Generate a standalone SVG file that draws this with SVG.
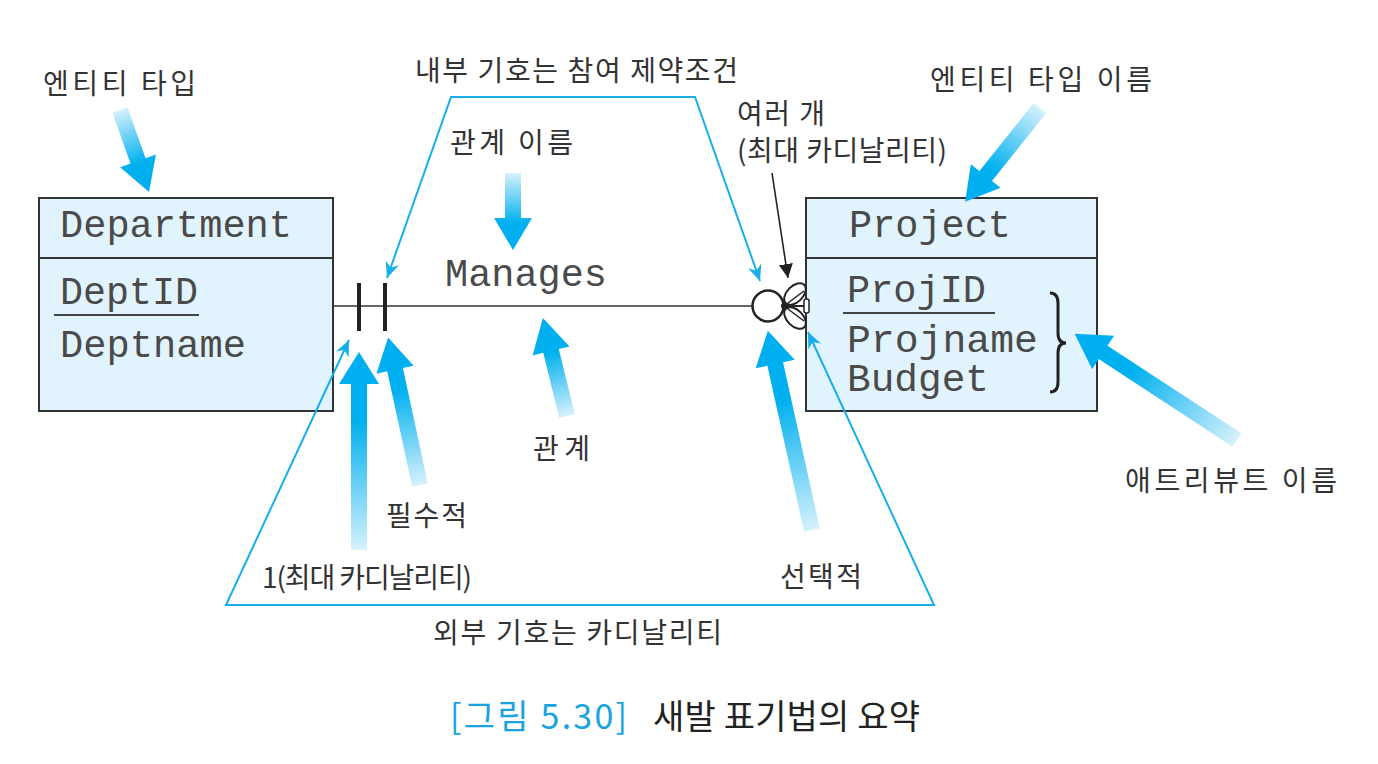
<svg xmlns="http://www.w3.org/2000/svg" width="1378" height="764" viewBox="0 0 1378 764">
  <defs>
    <style>
      .box { fill: #e1f3fd; stroke: #333; stroke-width: 2; }
      .mono { font-family: "Liberation Mono", "Courier New", monospace; font-size: 38px; fill: #4a4a4a; }
      .lbl { font-family: "Noto Sans CJK KR", "Noto Sans", sans-serif; font-size: 28px; fill: #333; }
      .cap { font-family: "Noto Sans CJK KR", "Noto Sans", sans-serif; font-size: 34px; }
      .rel { stroke: #333; stroke-width: 1.6; fill: none; }
      .bar { stroke: #222; stroke-width: 4; }
      .blue { stroke: #18aee9; stroke-width: 2; fill: none; }
      .fat { fill: url(#fatGrad); }
    </style>
    <linearGradient id="fatGrad" x1="0" y1="0" x2="1" y2="0">
      <stop offset="0" stop-color="#d6f1fc"/>
      <stop offset="0.65" stop-color="#00b0ef"/>
      <stop offset="1" stop-color="#00aeef"/>
    </linearGradient>
    <marker id="blueHead" markerUnits="userSpaceOnUse" markerWidth="18" markerHeight="14" refX="16" refY="7" orient="auto-start-reverse">
      <path d="M0,0 L16,7 L0,14 L5,7 Z" fill="#18aee9"/>
    </marker>
    <marker id="blackHead" markerUnits="userSpaceOnUse" markerWidth="16" markerHeight="14" refX="14" refY="7" orient="auto">
      <path d="M0,0 L14,7 L0,14 Z" fill="#222"/>
    </marker>
  </defs>

  <rect width="1378" height="764" fill="#fff"/>

  <!-- Department entity -->
  <g id="department">
    <rect class="box" x="39" y="198" width="294" height="213"/>
    <line x1="39" y1="258" x2="333" y2="258" stroke="#333" stroke-width="2"/>
    <text class="mono" x="60" y="237" textLength="232" lengthAdjust="spacingAndGlyphs">Department</text>
    <text class="mono" x="60" y="304" textLength="138" lengthAdjust="spacingAndGlyphs">DeptID</text>
    <line x1="54" y1="315" x2="199" y2="315" stroke="#444" stroke-width="2"/>
    <text class="mono" x="60" y="357" textLength="186" lengthAdjust="spacingAndGlyphs">Deptname</text>
  </g>

  <!-- Project entity -->
  <g id="project">
    <rect class="box" x="806" y="198" width="291" height="213"/>
    <line x1="806" y1="258" x2="1097" y2="258" stroke="#333" stroke-width="2"/>
    <text class="mono" x="849" y="237" textLength="162" lengthAdjust="spacingAndGlyphs">Project</text>
    <text class="mono" x="847" y="302" textLength="139" lengthAdjust="spacingAndGlyphs">ProjID</text>
    <line x1="843" y1="313" x2="995" y2="313" stroke="#444" stroke-width="2"/>
    <text class="mono" x="847" y="352" textLength="191" lengthAdjust="spacingAndGlyphs">Projname</text>
    <text class="mono" x="847" y="391" textLength="142" lengthAdjust="spacingAndGlyphs">Budget</text>
    <path d="M1050,293 Q1058,293 1058,303 L1058,333 Q1058,343 1066,343 Q1058,343 1058,353 L1058,382 Q1058,392 1050,392" fill="none" stroke="#222" stroke-width="3"/>
  </g>

  <!-- Relationship -->
  <g id="manages">
    <text class="mono" x="445" y="286" textLength="162" lengthAdjust="spacingAndGlyphs">Manages</text>
  </g>

  <g id="connectors">
    <line class="rel" x1="333" y1="306" x2="753" y2="306"/>
    <line class="bar" x1="359" y1="283" x2="359" y2="331"/>
    <line class="bar" x1="385" y1="283" x2="385" y2="331"/>
    <!-- crow's foot with optional circle -->
    <ellipse cx="795" cy="294" rx="13" ry="8" transform="rotate(-45 795 294)" fill="#fff" stroke="#222" stroke-width="2"/>
    <ellipse cx="795" cy="318" rx="13" ry="8" transform="rotate(45 795 318)" fill="#fff" stroke="#222" stroke-width="2"/>
    <line x1="784" y1="306" x2="806" y2="306" stroke="#222" stroke-width="2"/>
    <line x1="784" y1="306" x2="804" y2="291" stroke="#222" stroke-width="1.5"/>
    <line x1="784" y1="306" x2="804" y2="321" stroke="#222" stroke-width="1.5"/>
    <rect x="804" y="299" width="5" height="14" rx="2" fill="#fff" stroke="#222" stroke-width="1.5"/>
    <circle cx="768" cy="306" r="15.5" fill="#fff" stroke="#222" stroke-width="2.5"/>
    <circle cx="784" cy="306" r="3" fill="#222"/>
    <!-- black pointer -->
    <line x1="772" y1="173" x2="788" y2="278" stroke="#222" stroke-width="1.6" marker-end="url(#blackHead)"/>
    <!-- blue trapezoid lines -->
    <path class="blue" d="M387,278 L451,97 L695,97 L760,281" marker-start="url(#blueHead)" marker-end="url(#blueHead)"/>
    <path class="blue" d="M349,340 L226,605 L934,605 L808,332" marker-start="url(#blueHead)" marker-end="url(#blueHead)"/>
  </g>

  <!-- Fat gradient arrows -->
  <g id="fat-arrows">
    <polygon class="fat" transform="translate(120,110) rotate(70.5)" points="0,-8 54,-8 54,-19 87,0 54,19 54,8 0,8"/>
    <polygon class="fat" transform="translate(1040,108) rotate(128.6)" points="0,-8 87,-8 87,-19 120,0 87,19 87,8 0,8"/>
    <polygon class="fat" transform="translate(513,173) rotate(90)" points="0,-8 45,-8 45,-19 77,0 45,19 45,8 0,8"/>
    <polygon class="fat" transform="translate(567,416) rotate(-103.8)" points="0,-8 67,-8 67,-19 101,0 67,19 67,8 0,8"/>
    <polygon class="fat" transform="translate(359,550) rotate(-90)" points="0,-8 166,-8 166,-20 198,0 166,20 166,8 0,8"/>
    <polygon class="fat" transform="translate(420,485) rotate(-102.2)" points="0,-8 118,-8 118,-19 151,0 118,19 118,8 0,8"/>
    <polygon class="fat" transform="translate(812,530) rotate(-102.5)" points="0,-8 170,-8 170,-20 204,0 170,20 170,8 0,8"/>
    <polygon class="fat" transform="translate(1237,440) rotate(-146.8)" points="0,-8 160,-8 160,-20 194,0 160,20 160,8 0,8"/>
  </g>

  <!-- Labels -->
  <g id="labels">
    <text class="lbl" x="43" y="94" textLength="153" lengthAdjust="spacing">엔티티 타입</text>
    <text class="lbl" x="415" y="81" textLength="323" lengthAdjust="spacing">내부 기호는 참여 제약조건</text>
    <text class="lbl" x="450" y="153" textLength="123" lengthAdjust="spacing">관계 이름</text>
    <text class="lbl" x="737" y="124" textLength="88" lengthAdjust="spacing">여러 개</text>
    <text class="lbl" x="737" y="161" textLength="210" lengthAdjust="spacing">(최대 카디날리티)</text>
    <text class="lbl" x="930" y="90" textLength="222" lengthAdjust="spacing">엔티티 타입 이름</text>
    <text class="lbl" x="533" y="459" textLength="57" lengthAdjust="spacing">관계</text>
    <text class="lbl" x="386" y="526" textLength="81" lengthAdjust="spacing">필수적</text>
    <text class="lbl" x="262" y="588" textLength="210" lengthAdjust="spacing">1(최대 카디날리티)</text>
    <text class="lbl" x="780" y="587" textLength="82" lengthAdjust="spacing">선택적</text>
    <text class="lbl" x="1125" y="491" textLength="212" lengthAdjust="spacing">애트리뷰트 이름</text>
    <text class="lbl" x="433" y="643" textLength="289" lengthAdjust="spacing">외부 기호는 카디날리티</text>
  </g>

  <g id="caption">
    <text class="cap" x="450" y="729" fill="#1aa3e0" textLength="177" lengthAdjust="spacing">[그림 5.30]</text>
    <text class="cap" x="653" y="729" fill="#222" textLength="267" lengthAdjust="spacing">새발 표기법의 요약</text>
  </g>
</svg>
